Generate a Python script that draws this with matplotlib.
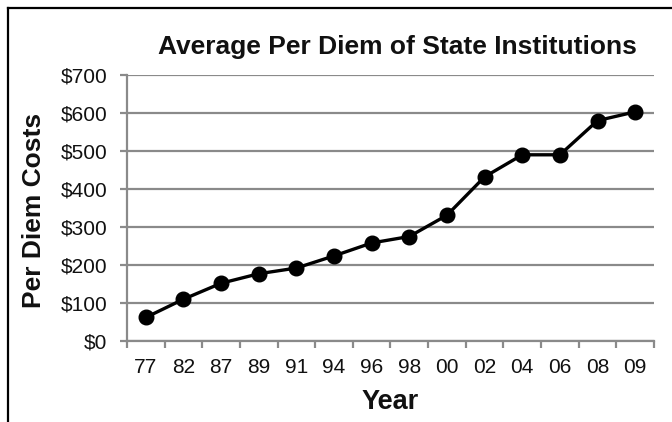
import matplotlib
matplotlib.use("Agg")
import matplotlib.pyplot as plt
from matplotlib.lines import Line2D
from matplotlib.ticker import MultipleLocator, FuncFormatter, FixedLocator

plt.rcParams['font.family'] = ['Liberation Sans', 'DejaVu Sans']

years = ["77", "82", "87", "89", "91", "94", "96", "98", "00", "02", "04", "06", "08", "09"]
per_diem = [62, 110, 152, 177, 192, 224, 258, 275, 331, 432, 490, 490, 580, 603]

title = "Average Per Diem of State Institutions"
x_label = "Year"
y_label = "Per Diem Costs"

W, H, DPI = 672, 422, 100
fig = plt.figure(figsize=(W / DPI, H / DPI), dpi=DPI)
ax = fig.add_axes([127 / W, 1 - 341 / H, (654 - 127) / W, (341 - 75) / H])

grid_color = "#8a8a8a"
x = list(range(len(years)))

ax.set_xlim(-0.5, len(years) - 0.5)
ax.set_ylim(0, 700)

ax.yaxis.set_major_locator(MultipleLocator(100))
ax.yaxis.set_major_formatter(FuncFormatter(lambda v, p: f"${int(v)}"))
ax.grid(axis="y", color=grid_color, linewidth=1.6, zorder=1)
ax.set_axisbelow(True)

ax.set_xticks(x)
ax.set_xticklabels(years)
ax.xaxis.set_minor_locator(FixedLocator([i - 0.5 for i in range(len(years) + 1)]))

ax.tick_params(axis="x", which="major", length=0, pad=12, labelsize=15, labelcolor="#111111")
ax.tick_params(axis="x", which="minor", length=5, width=1.6, color=grid_color, direction="out")
ax.tick_params(axis="y", which="major", length=5, width=1.6, color=grid_color, pad=9,
               labelsize=15, labelcolor="#111111")

for side in ("top", "right"):
    ax.spines[side].set_visible(False)
for side in ("left", "bottom"):
    ax.spines[side].set_color(grid_color)
    ax.spines[side].set_linewidth(1.6)

ax.plot(x, per_diem, color="black", linewidth=2.4, marker="o", markersize=10.5,
        markerfacecolor="black", markeredgecolor="black", zorder=3, clip_on=False)

fig.text(397 / W, 1 - 47 / H, title, ha="center", va="center",
         fontsize=19, fontweight="bold", color="#111111")
fig.text(390 / W, 1 - 402 / H, x_label, ha="center", va="center",
         fontsize=19.5, fontweight="bold", color="#111111")
fig.text(34 / W, 1 - 210 / H, y_label, ha="center", va="center", rotation=90,
         fontsize=19, fontweight="bold", color="#111111")

# frame around the left and top of the figure
fig.add_artist(Line2D([8 / W, 8 / W], [0, 1 - 8 / H], color="black", linewidth=1.6))
fig.add_artist(Line2D([8 / W, 1], [1 - 8 / H, 1 - 8 / H], color="black", linewidth=1.6))

fig.savefig("out.png", dpi=DPI, facecolor="white")
